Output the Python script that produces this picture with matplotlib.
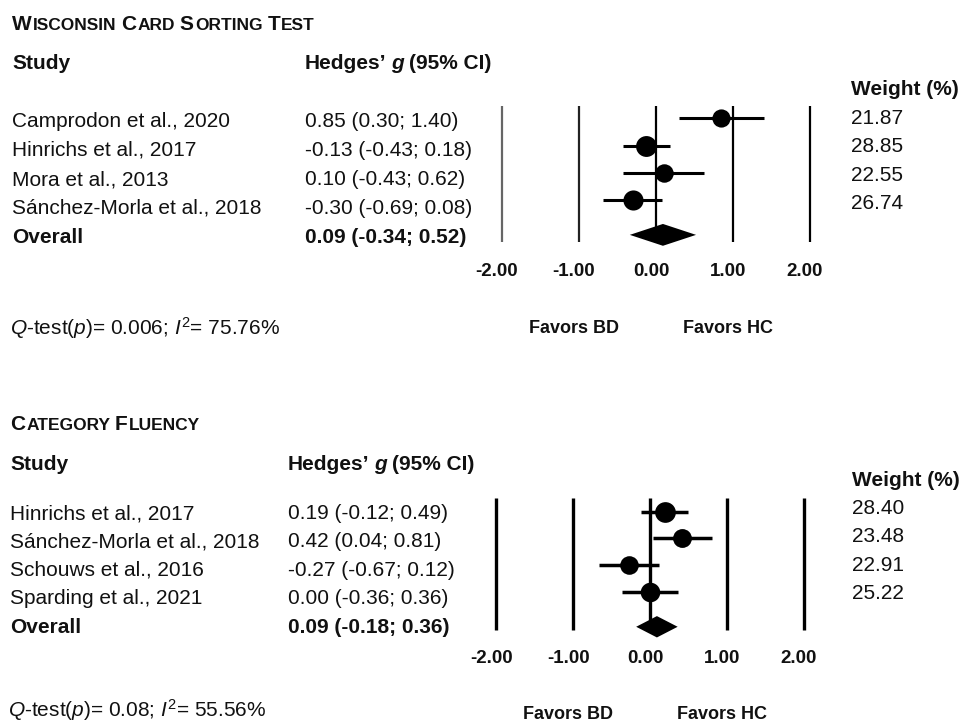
import numpy as np
import matplotlib
matplotlib.use('Agg')
import matplotlib.pyplot as plt
from matplotlib.transforms import offset_copy

plt.rcParams['font.family'] = 'Liberation Sans'
plt.rcParams['mathtext.fontset'] = 'custom'
plt.rcParams['mathtext.rm'] = 'Liberation Sans'
plt.rcParams['mathtext.it'] = 'Liberation Sans:italic'
plt.rcParams['mathtext.bf'] = 'Liberation Sans:bold'

W, H = 968, 723
INK = '#111111'

# Wisconsin Card Sorting Test
wcst_studies = ['Camprodon et al., 2020', 'Hinrichs et al., 2017',
                'Mora et al., 2013', 'Sánchez-Morla et al., 2018']
wcst_g = [0.85, -0.13, 0.10, -0.30]
wcst_lo = [0.30, -0.43, -0.43, -0.69]
wcst_hi = [1.40, 0.18, 0.62, 0.08]
wcst_weight = [21.87, 28.85, 22.55, 26.74]
wcst_overall = (0.09, -0.34, 0.52)
wcst_q, wcst_i2 = '0.006', '75.76'

# Category fluency
cf_studies = ['Hinrichs et al., 2017', 'Sánchez-Morla et al., 2018',
              'Schouws et al., 2016', 'Sparding et al., 2021']
cf_g = [0.19, 0.42, -0.27, 0.00]
cf_lo = [-0.12, 0.04, -0.67, -0.36]
cf_hi = [0.49, 0.81, 0.12, 0.36]
cf_weight = [28.40, 23.48, 22.91, 25.22]
cf_overall = (0.09, -0.18, 0.36)
cf_q, cf_i2 = '0.08', '55.56'

ticks = [-2, -1, 0, 1, 2]

fig = plt.figure(figsize=(W / 100, H / 100), dpi=100)
bg = fig.add_axes([0, 0, 1, 1])
bg.set_xlim(0, W)
bg.set_ylim(H, 0)
bg.axis('off')


def rich(x, y, pieces, size=15):
    # draw text pieces one after another on a common baseline
    r = fig.canvas.get_renderer()
    for s, kw in pieces:
        if s is None:
            x += kw
            continue
        opts = dict(fontsize=size, fontweight='bold', color=INK)
        opts.update(kw)
        t = bg.text(x, y, s, ha='left', va='baseline', **opts)
        x += t.get_window_extent(renderer=r).width + 1


def small_caps(x, y, words, big=15, small=12.5):
    pieces = []
    for i, w in enumerate(words):
        if i:
            pieces.append((None, 4))
        pieces.append((w[0], dict(fontsize=big)))
        pieces.append((w[1:].upper(), dict(fontsize=small)))
    rich(x, y, pieces)


def table(x_name, x_val, y_head, y_first, row_gap, studies, g, lo, hi,
          overall, title, y_title, q, i2, y_q, x_w, y_w, w_gap, weight):
    base = 7
    small_caps(x_name, y_title + 7, title)
    bg.text(x_name, y_head + base, 'Study', fontsize=15, fontweight='bold',
            color=INK, va='baseline')
    rich(x_val, y_head + base, [('Hedges’', {}), (None, 4),
                                ('g', dict(style='italic')), (None, 4),
                                ('(95% CI)', {})])
    for i, name in enumerate(studies):
        y = y_first + i * row_gap + base
        bg.text(x_name, y, name, fontsize=15, color=INK, va='baseline')
        bg.text(x_val, y, f'{g[i]:.2f} ({lo[i]:.2f}; {hi[i]:.2f})',
                fontsize=15, color=INK, va='baseline')
    y = y_first + len(studies) * row_gap + base
    est, olo, ohi = overall
    bg.text(x_name, y, 'Overall', fontsize=15, fontweight='bold',
            color=INK, va='baseline')
    bg.text(x_val, y, f'{est:.2f} ({olo:.2f}; {ohi:.2f})', fontsize=15,
            fontweight='bold', color=INK, va='baseline')
    bg.text(x_w, y_w + base, 'Weight (%)', fontsize=15, fontweight='bold',
            color=INK, va='baseline')
    for i, w in enumerate(weight):
        bg.text(x_w, y_w + (i + 1) * w_gap + base, f'{w:.2f}', fontsize=15,
                color=INK, va='baseline')
    bg.text(x_name - 2, y_q, rf'$Q$-test($p$)= {q}; $I^2$= {i2}%',
            fontsize=15, color=INK, va='center')


def forest(x_zero, unit, y_first, step, g, lo, hi, weight, overall,
           line_top, line_bot, overall_row, tick_row, favors_row,
           line_lw, ci_lw, line_colors):
    xl, xr, yt, yb = -2.4, 2.4, -0.8, 4.8
    left = x_zero + xl * unit
    right = x_zero + xr * unit
    top = y_first + yt * step
    bottom = y_first + yb * step
    ax = fig.add_axes([left / W, 1 - bottom / H,
                       (right - left) / W, (bottom - top) / H])
    ax.set_xlim(xl, xr)
    ax.set_ylim(yb, yt)
    ax.axis('off')

    ax.vlines(ticks, line_top, line_bot, colors=line_colors, lw=line_lw,
              zorder=1)
    rows = np.arange(len(g))
    ax.hlines(rows, lo, hi, color='black', lw=ci_lw, zorder=2)
    for r, gi, wi in zip(rows, g, weight):
        ax.plot(gi, r, 'o', ms=14 * np.sqrt(wi / 25), color='black',
                mew=0, zorder=3)
    est, olo, ohi = overall
    h = 0.4
    ax.fill([olo, est, ohi, est],
            [overall_row, overall_row - h, overall_row, overall_row + h],
            color='black', lw=0, zorder=3)

    off = offset_copy(ax.transData, fig=fig, x=-5, y=0, units='dots')
    for t in ticks:
        ax.text(t, tick_row, f'{t:.2f}', transform=off, ha='center',
                va='center', fontsize=13.5, fontweight='bold', color=INK,
                clip_on=False)
    ax.text(-1, favors_row, 'Favors BD', transform=off, ha='center',
            va='center', fontsize=13, fontweight='bold', color=INK,
            clip_on=False)
    ax.text(1, favors_row, 'Favors HC', transform=off, ha='center',
            va='center', fontsize=13, fontweight='bold', color=INK,
            clip_on=False)


# top panel
table(12, 305, 62, 120, 29, wcst_studies, wcst_g, wcst_lo, wcst_hi,
      wcst_overall, ['Wisconsin', 'Card', 'Sorting', 'Test'], 23,
      wcst_q, wcst_i2, 328.5, 851, 88, 28.6, wcst_weight)
forest(656, 77, 118.3, 27.3, wcst_g, wcst_lo, wcst_hi, wcst_weight,
       wcst_overall, -0.45, 4.52, 4.27, 5.61, 7.7, 1.6, 2.2,
       ['#666666', '#222222', 'black', 'black', 'black'])

# bottom panel
table(10, 288, 463, 512, 28.4, cf_studies, cf_g, cf_lo, cf_hi,
      cf_overall, ['Category', 'Fluency'], 423,
      cf_q, cf_i2, 710, 852, 479, 28.2, cf_weight)
forest(650, 76.8, 511.7, 26.7, cf_g, cf_lo, cf_hi, cf_weight,
       cf_overall, -0.5, 4.43, 4.31, 5.49, 7.58, 2.4, 2.5,
       ['black'] * 5)

fig.savefig('out.png', dpi=100, facecolor='white')
